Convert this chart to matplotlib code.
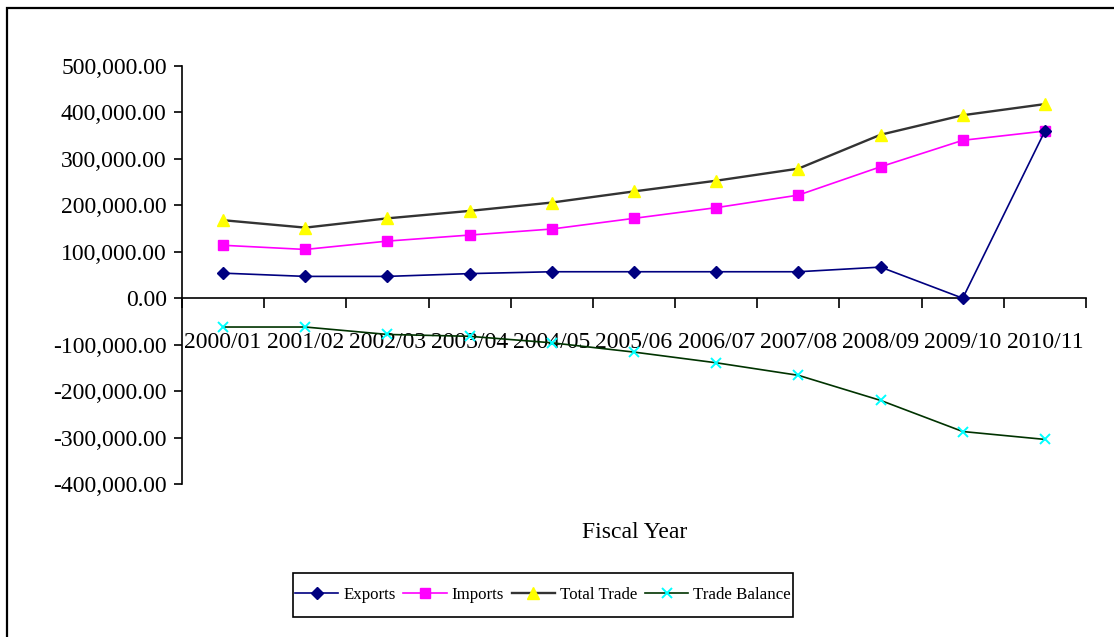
import matplotlib
matplotlib.use("Agg")
import matplotlib.pyplot as plt
from matplotlib.patches import Rectangle
from matplotlib.ticker import FuncFormatter, FixedLocator

years = ["2000/01", "2001/02", "2002/03", "2003/04", "2004/05", "2005/06",
         "2006/07", "2007/08", "2008/09", "2009/10", "2010/11"]
exports = [54000, 47000, 47000, 53000, 57000, 57000, 57000, 57000, 67000, 0, 360000]
imports = [114000, 105000, 123000, 136000, 149000, 172000, 195000, 222000, 283000, 340000, 360000]
total_trade = [168000, 152000, 172000, 188000, 206000, 230000, 253000, 279000, 352000, 394000, 418000]
trade_balance = [-62000, -62000, -78000, -82000, -96000, -116000, -139000, -166000, -220000, -287000, -304000]

plt.rcParams["font.family"] = ["Liberation Serif", "DejaVu Serif"]
FS = 17

fig = plt.figure(figsize=(11.14, 6.37), dpi=100)
W, H = 1114, 637

# outer chart border
fig.patches.append(Rectangle((7 / W, -0.1), 1.2, (637 - 8) / H + 0.1,
                             transform=fig.transFigure, fill=False,
                             edgecolor="black", linewidth=1.6))

ax = fig.add_axes([182 / W, (H - 484) / H, (1086 - 182) / W, (484 - 66) / H])
x = list(range(len(years)))

ax.plot(x, exports, color="#000080", linewidth=1.2, marker="D", markersize=6.5,
        markerfacecolor="#000080", markeredgecolor="#000080", label="Exports", zorder=5)
ax.plot(x, imports, color="#FF00FF", linewidth=1.2, marker="s", markersize=7.5,
        markerfacecolor="#FF00FF", markeredgecolor="#FF00FF", label="Imports", zorder=4)
ax.plot(x, total_trade, color="#333333", linewidth=1.7, marker="^", markersize=8.5,
        markerfacecolor="#FFFF00", markeredgecolor="#FFFF00", label="Total Trade", zorder=3)
ax.plot(x, trade_balance, color="#003300", linewidth=1.2, marker="x", markersize=7.5,
        markeredgecolor="#00FFFF", markeredgewidth=1.4, label="Trade Balance", zorder=3)

ax.set_xlim(-0.5, len(years) - 0.5)
ax.set_ylim(-400000, 500000)
ax.set_yticks(range(-400000, 500001, 100000))
ax.yaxis.set_major_formatter(FuncFormatter(lambda v, p: f"{v:,.2f}"))
ax.tick_params(axis="y", direction="out", length=6, width=1.2, pad=5, labelsize=FS)

ax.set_xticks(x)
ax.set_xticklabels(years)
ax.xaxis.set_minor_locator(FixedLocator([i - 0.5 for i in range(len(years) + 1)]))
ax.tick_params(axis="x", which="major", length=0, pad=24, labelsize=FS)
ax.tick_params(axis="x", which="minor", direction="out", length=7, width=1.2)

for s in ("top", "right"):
    ax.spines[s].set_visible(False)
ax.spines["bottom"].set_position(("data", 0))
ax.spines["left"].set_linewidth(1.2)
ax.spines["bottom"].set_linewidth(1.2)
ax.set_facecolor("none")

fig.text(635 / W, 1 - 533 / H, "Fiscal Year", ha="center", va="center", fontsize=FS)

# legend box
fig.patches.append(Rectangle((293 / W, 1 - 617 / H), 500 / W, 44 / H,
                             transform=fig.transFigure, fill=False,
                             edgecolor="black", linewidth=1.2))
leg = fig.legend(loc="center", bbox_to_anchor=(543 / W, 1 - 595 / H), ncol=4,
                 fontsize=12.2, frameon=False, handlelength=2.55,
                 handletextpad=0.3, columnspacing=0.45, borderpad=0.3)

fig.savefig("out.png", dpi=100)
